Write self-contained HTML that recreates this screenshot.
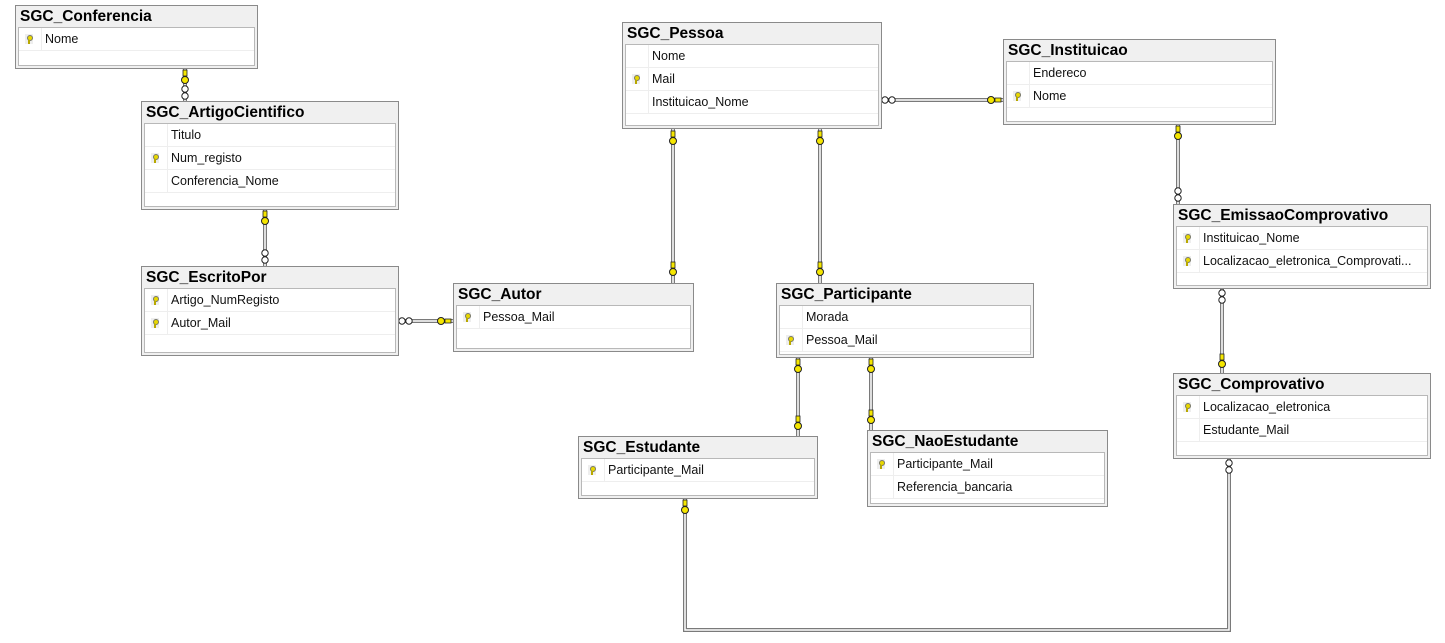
<!DOCTYPE html>
<html><head><meta charset="utf-8"><style>
body{margin:0;width:1445px;height:643px;background:#fff;position:relative;overflow:hidden;font-family:"Liberation Sans",sans-serif}
.t{position:absolute;border:1px solid #8a8a8a;background:#f0f0f0;box-sizing:border-box}
.h{position:absolute;left:4px;top:2px;font-weight:bold;font-size:15.5px;color:#000;white-space:nowrap}
.b{position:absolute;left:2px;right:2px;top:21px;bottom:2px;background:#fff;border:1px solid #b8b8b8}
.r{height:22px;border-bottom:1px solid #eee;position:relative;font-size:12.5px;color:#111;line-height:22px;white-space:nowrap;overflow:hidden}
.r span{position:absolute;left:26px}
.r .c{position:absolute;left:0;top:0;width:22px;height:22px;border-right:1px solid #eee}
.k{position:absolute;left:6px;top:6px;width:8px;height:10px;background:#eee}
.k::before{content:"";position:absolute;left:2px;top:1px;width:4px;height:4px;border-radius:50%;background:#e8d800;border:1px solid #776}
.k::after{content:"";position:absolute;left:3px;top:6px;width:2px;height:4px;background:#b8a800}
svg{position:absolute;left:0;top:0}
</style></head><body>
<svg width="1445" height="643">
<g fill="none" stroke="#7a7a7a" stroke-width="4">
<path d="M185 68V101M265 209V266M398 321H453M673 128V283M820 128V283M881 100H1003M1178 124V204M1222 288V373M798 357V436M871 357V430M685 498V630H1229V458"/>
</g>
<g fill="none" stroke="#fff" stroke-width="1.5">
<path d="M185 68V101M265 209V266M398 321H453M673 128V283M820 128V283M881 100H1003M1178 124V204M1222 288V373M798 357V436M871 357V430M685 498V630H1229V458"/>
</g>
<g fill="#f5e600" stroke="#222" stroke-width="1">
<circle cx="185" cy="80" r="3.5"/><circle cx="265" cy="221" r="3.5"/><circle cx="441" cy="321" r="3.5"/>
<circle cx="673" cy="141" r="3.5"/><circle cx="673" cy="272" r="3.5"/><circle cx="820" cy="141" r="3.5"/><circle cx="820" cy="272" r="3.5"/>
<circle cx="991" cy="100" r="3.5"/><circle cx="1178" cy="136" r="3.5"/><circle cx="1222" cy="364" r="3.5"/>
<circle cx="798" cy="369" r="3.5"/><circle cx="798" cy="426" r="3.5"/><circle cx="871" cy="369" r="3.5"/><circle cx="871" cy="420" r="3.5"/><circle cx="685" cy="510" r="3.5"/>
</g>
<g fill="#f5e600" stroke="#222" stroke-width="0.8">
<rect x="183" y="70" width="4" height="6"/><rect x="263" y="211" width="4" height="6"/><rect x="445" y="319" width="6" height="4"/>
<rect x="671" y="131" width="4" height="6"/><rect x="671" y="262" width="4" height="6"/><rect x="818" y="131" width="4" height="6"/><rect x="818" y="262" width="4" height="6"/>
<rect x="995" y="98" width="6" height="4"/><rect x="1176" y="126" width="4" height="6"/><rect x="1220" y="354" width="4" height="6"/>
<rect x="796" y="359" width="4" height="6"/><rect x="796" y="416" width="4" height="6"/><rect x="869" y="359" width="4" height="6"/><rect x="869" y="410" width="4" height="6"/><rect x="683" y="500" width="4" height="6"/>
</g>
<g fill="#fff" stroke="#222" stroke-width="1">
<circle cx="185" cy="89" r="3.2"/><circle cx="185" cy="96" r="3.2"/>
<circle cx="265" cy="253" r="3.2"/><circle cx="265" cy="260" r="3.2"/>
<circle cx="402" cy="321" r="3.2"/><circle cx="409" cy="321" r="3.2"/>
<circle cx="885" cy="100" r="3.2"/><circle cx="892" cy="100" r="3.2"/>
<circle cx="1178" cy="191" r="3.2"/><circle cx="1178" cy="198" r="3.2"/>
<circle cx="1222" cy="293" r="3.2"/><circle cx="1222" cy="300" r="3.2"/>
<circle cx="1229" cy="463" r="3.2"/><circle cx="1229" cy="470" r="3.2"/>
</g>
</svg>

<div class="t" style="left:15px;top:5px;width:243px;height:64px"><div class="h">SGC_Conferencia</div><div class="b">
<div class="r"><div class="c"><div class="k"></div></div><span>Nome</span></div></div></div>

<div class="t" style="left:141px;top:101px;width:258px;height:109px"><div class="h">SGC_ArtigoCientifico</div><div class="b">
<div class="r"><div class="c"></div><span>Titulo</span></div>
<div class="r"><div class="c"><div class="k"></div></div><span>Num_registo</span></div>
<div class="r"><div class="c"></div><span>Conferencia_Nome</span></div></div></div>

<div class="t" style="left:141px;top:266px;width:258px;height:90px"><div class="h">SGC_EscritoPor</div><div class="b">
<div class="r"><div class="c"><div class="k"></div></div><span>Artigo_NumRegisto</span></div>
<div class="r"><div class="c"><div class="k"></div></div><span>Autor_Mail</span></div></div></div>

<div class="t" style="left:453px;top:283px;width:241px;height:69px"><div class="h">SGC_Autor</div><div class="b">
<div class="r"><div class="c"><div class="k"></div></div><span>Pessoa_Mail</span></div></div></div>

<div class="t" style="left:622px;top:22px;width:260px;height:107px"><div class="h">SGC_Pessoa</div><div class="b">
<div class="r"><div class="c"></div><span>Nome</span></div>
<div class="r"><div class="c"><div class="k"></div></div><span>Mail</span></div>
<div class="r"><div class="c"></div><span>Instituicao_Nome</span></div></div></div>

<div class="t" style="left:1003px;top:39px;width:273px;height:86px"><div class="h">SGC_Instituicao</div><div class="b">
<div class="r"><div class="c"></div><span>Endereco</span></div>
<div class="r"><div class="c"><div class="k"></div></div><span>Nome</span></div></div></div>

<div class="t" style="left:776px;top:283px;width:258px;height:75px"><div class="h">SGC_Participante</div><div class="b">
<div class="r"><div class="c"></div><span>Morada</span></div>
<div class="r"><div class="c"><div class="k"></div></div><span>Pessoa_Mail</span></div></div></div>

<div class="t" style="left:578px;top:436px;width:240px;height:63px"><div class="h">SGC_Estudante</div><div class="b">
<div class="r"><div class="c"><div class="k"></div></div><span>Participante_Mail</span></div></div></div>

<div class="t" style="left:867px;top:430px;width:241px;height:77px"><div class="h">SGC_NaoEstudante</div><div class="b">
<div class="r"><div class="c"><div class="k"></div></div><span>Participante_Mail</span></div>
<div class="r"><div class="c"></div><span>Referencia_bancaria</span></div></div></div>

<div class="t" style="left:1173px;top:204px;width:258px;height:85px"><div class="h">SGC_EmissaoComprovativo</div><div class="b">
<div class="r"><div class="c"><div class="k"></div></div><span>Instituicao_Nome</span></div>
<div class="r"><div class="c"><div class="k"></div></div><span>Localizacao_eletronica_Comprovati...</span></div></div></div>

<div class="t" style="left:1173px;top:373px;width:258px;height:86px"><div class="h">SGC_Comprovativo</div><div class="b">
<div class="r"><div class="c"><div class="k"></div></div><span>Localizacao_eletronica</span></div>
<div class="r"><div class="c"></div><span>Estudante_Mail</span></div></div></div>
</body></html>
